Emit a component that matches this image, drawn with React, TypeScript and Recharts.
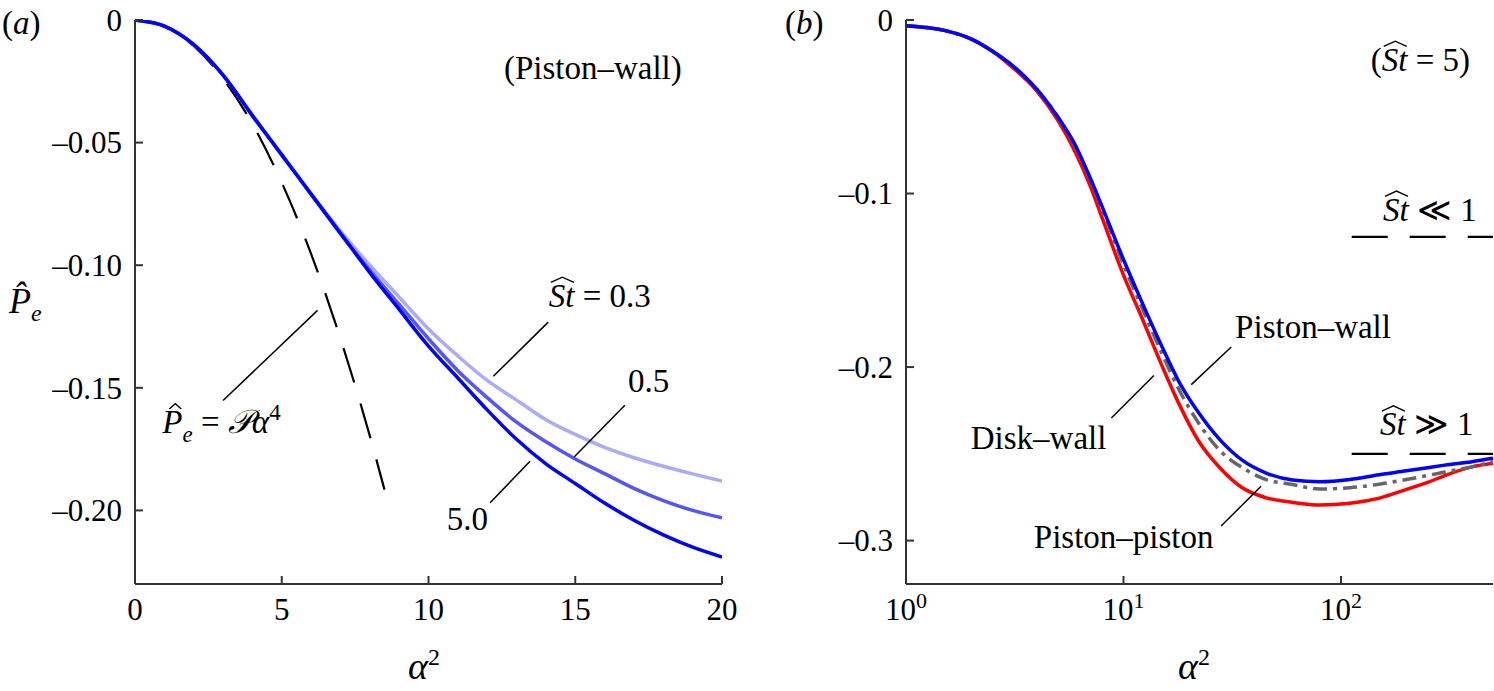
import { LineChart, Line, XAxis, YAxis, ReferenceLine, ReferenceDot } from "recharts";

const FONT = "'Liberation Serif', 'Times New Roman', Times, serif";
const FS = 31; // tick labels
const AS = 33; // annotations
const serif = { fontFamily: FONT };

// panel (a): piston-wall, linear alpha^2
const alphaSqA = [0, 1, 2, 3, 4, 5, 6, 7, 8, 9, 10, 11, 12, 13, 14, 15, 16, 17, 18, 19, 20];
const peSt03 = [0, -0.0025, -0.01, -0.0225, -0.039, -0.055, -0.071, -0.086, -0.1, -0.113, -0.126, -0.137, -0.147, -0.155, -0.163, -0.169, -0.1743, -0.1785, -0.182, -0.1851, -0.188];
const peSt05 = [0, -0.0025, -0.01, -0.0225, -0.039, -0.055, -0.071, -0.087, -0.102, -0.116, -0.13, -0.143, -0.154, -0.164, -0.172, -0.179, -0.185, -0.191, -0.196, -0.2, -0.203];
const peSt50 = [0, -0.0025, -0.01, -0.0225, -0.039, -0.055, -0.071, -0.087, -0.103, -0.118, -0.133, -0.146, -0.159, -0.171, -0.181, -0.189, -0.197, -0.204, -0.21, -0.215, -0.219];
const smallAlphaX = [0, 1, 2, 3, 4, 5, 6, 7, 8, 8.5];
const smallAlphaY = [0, -0.0026, -0.0106, -0.0239, -0.0424, -0.0663, -0.0954, -0.1299, -0.1696, -0.1915];
const ticksA = [0, 5, 10, 15, 20];
const yTicksA = [0, -0.05, -0.1, -0.15, -0.2];

// panel (b): St = 5, log alpha^2
const alphaSqB = [1, 1.5, 2, 2.5, 3, 4, 5, 6, 7, 8, 10, 12, 15, 18, 22, 28, 35, 45, 60, 80, 110, 150, 200, 250, 300, 400, 500];
const pistonWall = [-0.0033, -0.006, -0.011, -0.018, -0.025, -0.04, -0.056, -0.072, -0.0905, -0.108, -0.138, -0.161, -0.188, -0.2085, -0.2258, -0.2424, -0.2535, -0.2609, -0.2651, -0.2661, -0.2648, -0.262, -0.2598, -0.258, -0.2565, -0.2545, -0.2525];
const diskWall = [-0.0033, -0.006, -0.011, -0.018, -0.025, -0.04, -0.056, -0.073, -0.0915, -0.109, -0.141, -0.164, -0.192, -0.213, -0.2317, -0.2486, -0.2578, -0.2647, -0.2677, -0.2703, -0.2695, -0.2675, -0.2648, -0.2625, -0.2605, -0.2575, -0.2545];
const pistonPiston = [-0.0033, -0.006, -0.011, -0.018, -0.026, -0.041, -0.058, -0.076, -0.095, -0.1145, -0.147, -0.17, -0.199, -0.2212, -0.242, -0.2586, -0.2694, -0.2752, -0.278, -0.2795, -0.2785, -0.2755, -0.2705, -0.2665, -0.2625, -0.2575, -0.2554];
const limitX = [112, 500];
const stSmall = [-0.125, -0.125];
const stLarge = [-0.25, -0.25];
const ticksB = [1, 10, 100];
const tickExpB = ["0", "1", "2"];
const yTicksB = [0, -0.1, -0.2, -0.3];

const pts = (xs: number[], ys: number[]) => xs.map((x, i) => ({ x, y: ys[i] }));

const Hat = ({ x, y, w, fs }: { x: number; y: number; w: number; fs: number }) => (
  <path d={`M${x},${y - 0.74 * fs} L${x + w / 2},${y - 0.9 * fs} L${x + w},${y - 0.74 * fs}`} fill="none" stroke="#000" strokeWidth={1.4} />
);

// "St" with a wide hat, followed by tail text
const stLabel = (tail: string) => (p: any) => (
  <g>
    <text x={p.cx} y={p.cy} style={serif} fontSize={AS}>
      <tspan fontStyle="italic">St</tspan>
      <tspan>{tail}</tspan>
    </text>
    <Hat x={p.cx + 2} y={p.cy} w={23} fs={AS} />
  </g>
);

const plain = (s: string) => (p: any) => (
  <text x={p.cx} y={p.cy} style={serif} fontSize={AS}>{s}</text>
);

const peLaw = (p: any) => (
  <g>
    <text x={p.cx} y={p.cy} style={serif} fontSize={AS}>
      <tspan fontStyle="italic">P</tspan>
      <tspan fontStyle="italic" fontSize={23} dy={9}>e</tspan>
      <tspan dy={-9}> = </tspan>
      <tspan fontStyle="italic">𝒫α</tspan>
      <tspan fontSize={23} dy={-13}>4</tspan>
    </text>
    <Hat x={p.cx + 7} y={p.cy} w={12} fs={AS} />
  </g>
);

const stBox = (p: any) => (
  <g>
    <text x={p.cx} y={p.cy} style={serif} fontSize={AS}>
      <tspan>(</tspan>
      <tspan fontStyle="italic">St</tspan>
      <tspan> = 5)</tspan>
    </text>
    <Hat x={p.cx + 13} y={p.cy} w={23} fs={AS} />
  </g>
);

const tickA = (p: any) => (
  <text x={p.x} y={p.y} textAnchor="middle" dy="0.71em" style={serif} fontSize={FS}>{p.payload.value}</text>
);

const tickB = (p: any) => {
  const i = ticksB.indexOf(p.payload.value);
  return (
    <text x={p.x} y={p.y} textAnchor="middle" dy="0.71em" style={serif} fontSize={FS}>
      10<tspan fontSize={22} dy={-12}>{tickExpB[i]}</tspan>
    </text>
  );
};

const yTick = (digits: number) => (p: any) => {
  const v = p.payload.value;
  const s = v === 0 ? "0" : "–" + Math.abs(v).toFixed(digits);
  return (
    <text x={p.x} y={p.y} textAnchor="end" dy="0.35em" style={serif} fontSize={FS}>{s}</text>
  );
};

const frame = { stroke: "#333", strokeWidth: 2 };
const pointer = { stroke: "#000", strokeWidth: 1.5, ifOverflow: "visible" as const };
const W = 3.5;

function PanelA() {
  return (
    <LineChart width={760} height={691} margin={{ top: 20, right: 38, bottom: 0, left: 75 }} style={serif}>
      <XAxis dataKey="x" type="number" domain={[0, 20]} ticks={ticksA} height={107} axisLine={frame} tickLine={frame} tickSize={-8} tickMargin={22} tick={tickA} allowDataOverflow />
      <XAxis xAxisId="top" orientation="top" type="number" domain={[0, 20]} ticks={ticksA} height={0} axisLine={frame} tickLine={frame} tickSize={-8} tick={false} />
      <YAxis type="number" domain={[-0.23, 0]} ticks={yTicksA} width={60} axisLine={frame} tickLine={frame} tickSize={-8} tickMargin={21} tick={yTick(2)} allowDataOverflow />
      <YAxis yAxisId="right" orientation="right" type="number" domain={[-0.23, 0]} ticks={yTicksA} width={0} axisLine={frame} tickLine={frame} tickSize={-8} tick={false} />
      <Line data={pts(smallAlphaX, smallAlphaY)} dataKey="y" type="monotone" stroke="#000" strokeWidth={2.2} strokeDasharray="36 22" dot={false} isAnimationActive={false} />
      <Line data={pts(alphaSqA, peSt03)} dataKey="y" type="monotone" stroke="#aaaaff" strokeWidth={W} dot={false} isAnimationActive={false} />
      <Line data={pts(alphaSqA, peSt05)} dataKey="y" type="monotone" stroke="#5555ff" strokeWidth={W} dot={false} isAnimationActive={false} />
      <Line data={pts(alphaSqA, peSt50)} dataKey="y" type="monotone" stroke="#0000ff" strokeWidth={W} dot={false} isAnimationActive={false} />
      <ReferenceLine segment={[{ x: 3.0, y: -0.1552 }, { x: 6.22, y: -0.1184 }]} {...pointer} />
      <ReferenceLine segment={[{ x: 12.21, y: -0.1453 }, { x: 14.08, y: -0.1232 }]} {...pointer} />
      <ReferenceLine segment={[{ x: 14.97, y: -0.1781 }, { x: 16.69, y: -0.1571 }]} {...pointer} />
      <ReferenceLine segment={[{ x: 12.1, y: -0.1969 }, { x: 13.46, y: -0.1799 }]} {...pointer} />
      <ReferenceDot x={0.93} y={-0.1686} r={0} shape={peLaw} ifOverflow="visible" />
      <ReferenceDot x={14.1} y={-0.117} r={0} shape={stLabel(" = 0.3")} ifOverflow="visible" />
      <ReferenceDot x={16.8} y={-0.1518} r={0} shape={plain("0.5")} ifOverflow="visible" />
      <ReferenceDot x={10.62} y={-0.2081} r={0} shape={plain("5.0")} ifOverflow="visible" />
      <ReferenceDot x={12.57} y={-0.0239} r={0} shape={plain("(Piston–wall)")} ifOverflow="visible" />
    </LineChart>
  );
}

function PanelB() {
  return (
    <LineChart width={734} height={691} margin={{ top: 20, right: 1, bottom: 0, left: 86 }} style={serif}>
      <XAxis dataKey="x" type="number" scale="log" domain={[1, 500]} ticks={ticksB} height={107} axisLine={frame} tickLine={frame} tickSize={-8} tickMargin={22} tick={tickB} allowDataOverflow />
      <XAxis xAxisId="top" orientation="top" type="number" scale="log" domain={[1, 500]} ticks={ticksB} height={0} axisLine={frame} tickLine={frame} tickSize={-8} tick={false} />
      <YAxis type="number" domain={[-0.325, 0]} ticks={yTicksB} width={60} axisLine={frame} tickLine={frame} tickSize={-8} tickMargin={21} tick={yTick(1)} allowDataOverflow />
      <YAxis yAxisId="right" orientation="right" type="number" domain={[-0.325, 0]} ticks={yTicksB} width={0} axisLine={frame} tickLine={frame} tickSize={-8} tick={false} />
      <Line data={pts(limitX, stSmall)} dataKey="y" stroke="#000" strokeWidth={2.2} strokeDasharray="36 22" dot={false} isAnimationActive={false} />
      <Line data={pts(limitX, stLarge)} dataKey="y" stroke="#000" strokeWidth={2.2} strokeDasharray="36 22" dot={false} isAnimationActive={false} />
      <Line data={pts(alphaSqB, pistonPiston)} dataKey="y" type="monotone" stroke="#ff0000" strokeWidth={W} dot={false} isAnimationActive={false} />
      <Line data={pts(alphaSqB, diskWall)} dataKey="y" type="monotone" stroke="#666666" strokeWidth={W} strokeDasharray="14 6 4 6" dot={false} isAnimationActive={false} />
      <Line data={pts(alphaSqB, pistonWall)} dataKey="y" type="monotone" stroke="#0000ff" strokeWidth={W} dot={false} isAnimationActive={false} />
      <ReferenceLine segment={[{ x: 20.5, y: -0.2101 }, { x: 31.3, y: -0.1884 }]} {...pointer} />
      <ReferenceLine segment={[{ x: 8.8, y: -0.2293 }, { x: 13.8, y: -0.2048 }]} {...pointer} />
      <ReferenceLine segment={[{ x: 28.1, y: -0.2916 }, { x: 42.9, y: -0.2687 }]} {...pointer} />
      <ReferenceDot x={137} y={-0.0293} r={0} shape={stBox} ifOverflow="visible" />
      <ReferenceDot x={156} y={-0.1157} r={0} shape={stLabel(" ≪ 1")} ifOverflow="visible" />
      <ReferenceDot x={151} y={-0.2394} r={0} shape={stLabel(" ≫ 1")} ifOverflow="visible" />
      <ReferenceDot x={32.6} y={-0.1834} r={0} shape={plain("Piston–wall")} ifOverflow="visible" />
      <ReferenceDot x={1.984} y={-0.247} r={0} shape={plain("Disk–wall")} ifOverflow="visible" />
      <ReferenceDot x={3.87} y={-0.304} r={0} shape={plain("Piston–piston")} ifOverflow="visible" />
    </LineChart>
  );
}

const abs = (left: number, top: number): React.CSSProperties => ({
  position: "absolute",
  left,
  top,
  fontFamily: FONT,
  fontSize: AS,
  lineHeight: 1,
  whiteSpace: "nowrap",
});

export default function App() {
  return (
    <div style={{ position: "absolute", left: 0, top: 0, width: 1494, height: 691, background: "#fff", fontFamily: FONT }}>
      <div style={{ position: "absolute", left: 0, top: 0 }}>
        <PanelA />
      </div>
      <div style={{ position: "absolute", left: 760, top: 0 }}>
        <PanelB />
      </div>
      <div style={abs(2, 7)}>(<i>a</i>)</div>
      <div style={abs(785, 7)}>(<i>b</i>)</div>
      <div style={{ ...abs(9, 283), fontSize: 36 }}>
        <i>P̂</i>
        <sub style={{ fontSize: 24 }}><i>e</i></sub>
      </div>
      <div style={{ ...abs(408, 645), fontSize: 38 }}>
        <i>α</i>
        <sup style={{ fontSize: 24 }}>2</sup>
      </div>
      <div style={{ ...abs(1178, 645), fontSize: 38 }}>
        <i>α</i>
        <sup style={{ fontSize: 24 }}>2</sup>
      </div>
    </div>
  );
}
